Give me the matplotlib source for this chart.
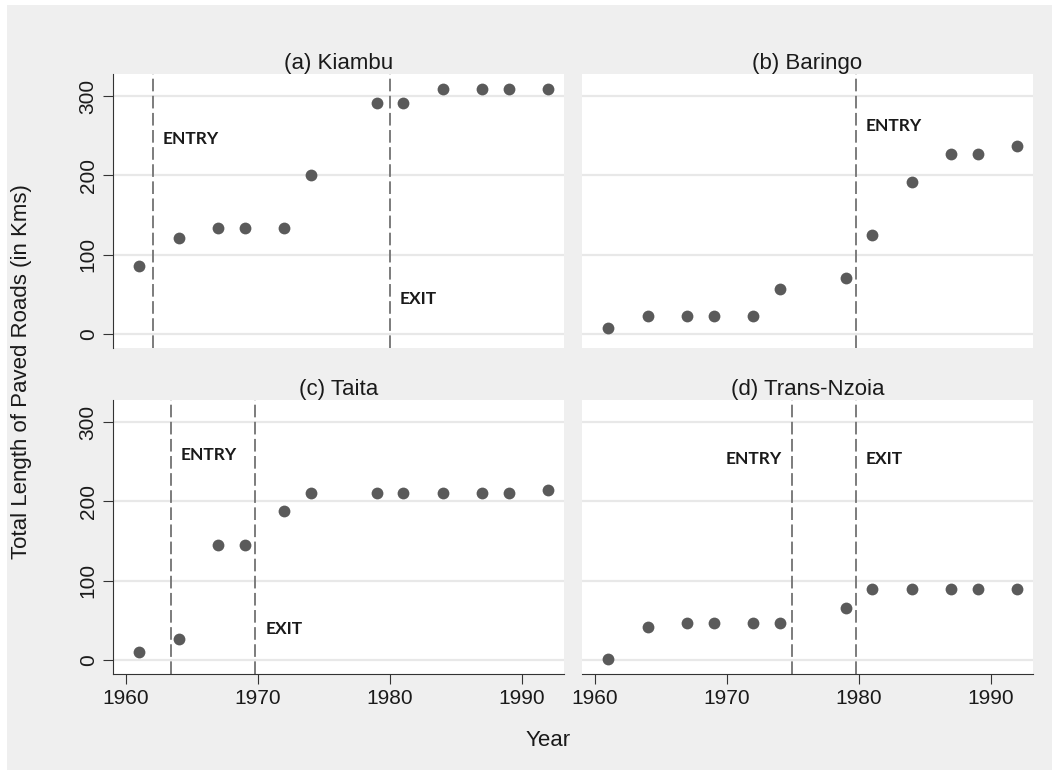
import matplotlib
matplotlib.use("Agg")
import matplotlib.pyplot as plt
from matplotlib.patches import Rectangle

# Dados
years = [1961, 1964, 1967, 1969, 1972, 1974, 1979, 1981, 1984, 1987, 1989, 1992]
kiambu = [85, 121, 133, 133, 133, 200, 291, 291, 309, 309, 309, 309]
baringo = [7, 23, 23, 23, 23, 56, 70, 125, 192, 227, 227, 237]
taita = [10, 26, 145, 145, 188, 210, 210, 210, 210, 210, 210, 214]
trans_nzoia = [1, 41, 47, 47, 47, 47, 65, 89, 89, 89, 89, 89]

panel_titles = ["(a) Kiambu", "(b) Baringo", "(c) Taita", "(d) Trans-Nzoia"]

# linhas de entrada / saida (ano, rotulo, altura do rotulo)
kiambu_events = [(1962, "ENTRY", 246), (1980, "EXIT", 44)]
baringo_events = [(1979.8, "ENTRY", 262)]
taita_events = [(1963.4, "ENTRY", 258), (1969.8, "EXIT", 39)]
trans_nzoia_events = [(1974.9, "ENTRY", 254), (1979.8, "EXIT", 254)]

yticks = [0, 100, 200, 300]
xticks = [1960, 1970, 1980, 1990]

plt.rcParams["font.family"] = ["Liberation Sans", "DejaVu Sans"]

W, H = 1059, 771
fig = plt.figure(figsize=(W / 100, H / 100), dpi=100)
fig.patch.set_facecolor("white")
# fundo cinza estilo Stata
fig.patches.append(Rectangle((7 / W, 1 - 770 / H), 1045 / W, 765 / H,
                             transform=fig.transFigure, facecolor="#efefef",
                             edgecolor="none", zorder=-5))

# posicoes dos paineis em pixels: (esquerda, topo)
pw, ph = 451, 274
boxes = [(113, 74), (582, 74), (113, 400), (582, 400)]
series = [kiambu, baringo, taita, trans_nzoia]
events = [kiambu_events, baringo_events, taita_events, trans_nzoia_events]

for i in range(4):
    left, top = boxes[i]
    ax = fig.add_axes([left / W, 1 - (top + ph) / H, pw / W, ph / H])
    ax.set_zorder(1)
    ax.set_facecolor("white")
    ax.set_xlim(1959.0, 1993.2)
    ax.set_ylim(-18, 328)

    for g in yticks:
        ax.axhline(g, color="#e8e8e8", lw=1.6, zorder=1)

    ax.plot(years, series[i], "o", color="#5a5a5a", ms=8.5, mec="none", zorder=3)

    for yr, lab, ty in events[i]:
        ax.axvline(yr, color="#7c7c7c", lw=1.4, ls=(0, (6.5, 2.3)), zorder=2)
        if lab == "ENTRY" and i == 3:
            off, ha = -7, "right"
        else:
            off, ha = 7, "left"
        ax.annotate(lab, xy=(yr, ty), xytext=(off, 0), textcoords="offset points",
                    ha=ha, va="center", fontsize=12.5, fontweight="bold",
                    family=["Lato", "DejaVu Sans"], color="#1a1a1a")

    ax.set_title(panel_titles[i], fontsize=16, pad=3, color="#1a1a1a")

    for s in ["top", "right"]:
        ax.spines[s].set_visible(False)
    ax.spines["left"].set_visible(i in (0, 2))
    ax.spines["bottom"].set_visible(i in (2, 3))
    ax.spines["left"].set_color("#333333")
    ax.spines["bottom"].set_color("#333333")

    ax.set_yticks(yticks)
    ax.set_xticks(xticks)
    if i in (0, 2):
        ax.set_yticklabels([str(t) for t in yticks], rotation=90, va="center",
                           fontsize=15, color="#1a1a1a")
        ax.tick_params(axis="y", length=7, color="#333333", pad=4)
    else:
        ax.tick_params(axis="y", left=False, labelleft=False)
    if i in (2, 3):
        ax.set_xticklabels([str(t) for t in xticks], fontsize=15, color="#1a1a1a")
        ax.tick_params(axis="x", length=7, color="#333333", pad=4)
    else:
        ax.tick_params(axis="x", bottom=False, labelbottom=False)

fig.text(22 / W, 1 - 372 / H, "Total Length of Paved Roads (in Kms)", rotation=90,
         ha="center", va="center", fontsize=16, color="#1a1a1a")
fig.text(548 / W, 1 - 740 / H, "Year", ha="center", va="center",
         fontsize=16, color="#1a1a1a")

plt.savefig("out.png", dpi=100)
